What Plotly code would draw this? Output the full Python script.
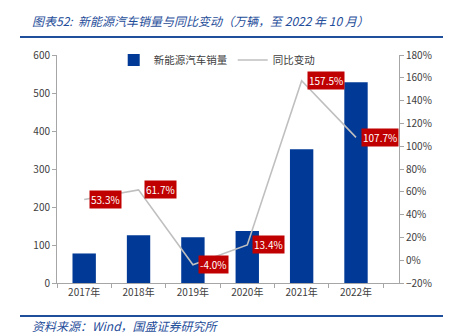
import plotly.graph_objects as go

# Annual NEV sales (10k units) and year-over-year change (%)
years = ["2017年", "2018年", "2019年", "2020年", "2021年", "2022年"]
sales = [77.7, 125.6, 120.6, 136.7, 352.1, 528.0]
yoy = [53.3, 61.7, -4.0, 13.4, 157.5, 107.7]
yoy_labels = ["53.3%", "61.7%", "-4.0%", "13.4%", "157.5%", "107.7%"]

W, H = 450, 336
L, R, T, B = 57, 51, 55, 53

BLUE = "#003A96"
GRAY = "#BFBFBF"
TITLE_BLUE = "#1F4E9A"
FONT = "Noto Sans CJK SC, Noto Sans, sans-serif"
TICK = dict(family=FONT, size=10, color="#404040")

fig = go.Figure()
fig.add_trace(go.Bar(
    x=years, y=sales, name="新能源汽车销量",
    marker=dict(color=BLUE, line=dict(width=0)), width=0.43, yaxis="y",
))
fig.add_trace(go.Scatter(
    x=years, y=yoy, name="同比变动", mode="lines",
    line=dict(color=GRAY, width=1.6), yaxis="y2",
))

# Red value boxes beside each growth point
for yr, v, t in zip(years, yoy, yoy_labels):
    fig.add_annotation(
        x=yr, y=v, xref="x", yref="y2", text=t, showarrow=False,
        xanchor="left", yanchor="middle", xshift=5,
        font=dict(family=FONT, size=10, color="white"),
        bgcolor="#C00000", borderpad=1,
    )

def px_x(p):
    return (p - L) / (W - L - R)

def px_y(p):
    return (H - B - p) / (H - T - B)

# Title, source and rules
fig.add_annotation(
    x=px_x(30), y=px_y(21), xref="paper", yref="paper", xanchor="left", yanchor="middle",
    text="图表52:  新能源汽车销量与同比变动（万辆，至 2022 年 10 月）", showarrow=False,
    font=dict(family=FONT, size=12, color=TITLE_BLUE, style="italic"),
)
fig.add_annotation(
    x=px_x(30), y=px_y(325), xref="paper", yref="paper", xanchor="left", yanchor="middle",
    text="资料来源：Wind，国盛证券研究所", showarrow=False,
    font=dict(family=FONT, size=12, color=TITLE_BLUE, style="italic"),
)
for yy in (37, 316):
    fig.add_shape(type="line", xref="paper", yref="paper",
                  x0=px_x(20), x1=px_x(443), y0=px_y(yy), y1=px_y(yy),
                  line=dict(color="#1F4E9A", width=2))

fig.update_layout(
    width=W, height=H, margin=dict(l=L, r=R, t=T, b=B),
    paper_bgcolor="white", plot_bgcolor="white",
    showlegend=True,
    legend=dict(orientation="h", x=0.467, xanchor="center", y=px_y(60), yanchor="middle",
                font=dict(family=FONT, size=10.5, color="#404040"),
                bgcolor="rgba(0,0,0,0)", itemwidth=30, tracegroupgap=0),
    bargap=0.57,
    xaxis=dict(showline=True, linecolor="#A6A6A6", linewidth=1, ticks="outside",
               tickson="boundaries", ticklen=4, tickcolor="#A6A6A6", tickfont=TICK,
               showgrid=False),
    yaxis=dict(range=[0, 600], dtick=100, showline=True, linecolor="#A6A6A6", linewidth=1,
               ticks="outside", ticklen=4, tickcolor="#A6A6A6", tickfont=TICK,
               showgrid=False, zeroline=False),
    yaxis2=dict(range=[-20, 180], dtick=20, ticksuffix="%", overlaying="y", side="right",
                showline=True, linecolor="#A6A6A6", linewidth=1, ticks="outside",
                ticklen=4, tickcolor="#A6A6A6", tickfont=TICK,
                showgrid=False, zeroline=False),
)

fig.write_html("out.html")
